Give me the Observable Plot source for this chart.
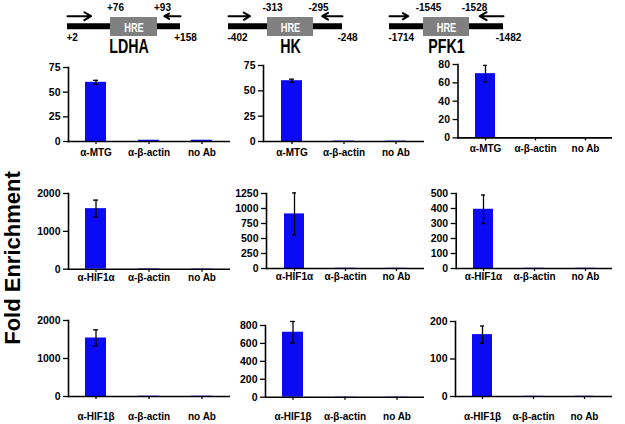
<!DOCTYPE html>
<html><head><meta charset="utf-8">
<script src="https://cdn.jsdelivr.net/npm/d3@7"></script>
<script src="https://cdn.jsdelivr.net/npm/@observablehq/plot@0.6"></script>
<style>
body{margin:0;background:#fff}
#fig{position:relative;width:625px;height:424px;overflow:hidden;font-family:"Liberation Sans",Arial,sans-serif}
#fig svg{position:absolute;overflow:visible}
#ytitle{position:absolute;left:13px;top:258px;transform:translate(-50%,-50%) rotate(-90deg);white-space:nowrap;line-height:1;font:bold 22px "Liberation Sans",Arial,sans-serif;color:#000}
</style></head>
<body><div id="fig"><div id="ytitle">Fold Enrichment</div></div>
<script>
// ---------- data ----------
const genes = ["LDHA", "HK", "PFK1"];
const ampliconStart = [2, -402, -1714];
const hreStart = [76, -313, -1545];
const hreEnd = [93, -295, -1528];
const ampliconEnd = [158, -248, -1482];

const abMTG = ["α-MTG", "α-β-actin", "no Ab"];
const abHIF1a = ["α-HIF1α", "α-β-actin", "no Ab"];
const abHIF1b = ["α-HIF1β", "α-β-actin", "no Ab"];

// fold enrichment [specific, beta-actin, no Ab] and error
const mtgLDHA = [60, 1.3, 1.3],   mtgLDHAErr = [2, 0, 0];
const mtgHK = [60, 0.4, 0.4],     mtgHKErr = [1.5, 0, 0];
const mtgPFK1 = [70, 0.4, 0.4],   mtgPFK1Err = [9, 0, 0];
const hif1aLDHA = [1600, 12, 10], hif1aLDHAErr = [225, 0, 0];
const hif1aHK = [910, 4, 4],      hif1aHKErr = [350, 0, 0];
const hif1aPFK1 = [395, 1.5, 1.5],hif1aPFK1Err = [95, 0, 0];
const hif1bLDHA = [1540, 8, 8],   hif1bLDHAErr = [215, 0, 0];
const hif1bHK = [725, 3, 3],      hif1bHKErr = [120, 0, 0];
const hif1bPFK1 = [165, 0.6, 0.6],hif1bPFK1Err = [23, 0, 0];

const yMax = [[75, 75, 80], [2000, 1250, 500], [2000, 800, 200]];
const yTicks = [
  [[0, 25, 50, 75], [0, 25, 50, 75], [0, 20, 40, 60, 80]],
  [[0, 1000, 2000], [0, 250, 500, 750, 1000, 1250], [0, 100, 200, 300, 400, 500]],
  [[0, 1000, 2000], [0, 200, 400, 600, 800], [0, 100, 200]]
];

// ---------- layout ----------
const fig = document.getElementById("fig");
const BLUE = "#0a0af5";
const FONT = "'Liberation Sans', Arial, sans-serif";

const diagramRange = [[67, 110, 157, 180], [228, 267, 313, 342], [389, 423, 469, 503]];
const diagY = {arrow: 15.7, bar: 25.7, boxTop: 17, boxBottom: 36, top: 7.5, bottom: 37.5, name: 46, hre: 27};

const sgn = v => (v > 0 ? "+" + v : String(v));

// squeeze text horizontally (the reference uses a narrow face)
function squeeze(svg, content, ratio) {
  svg.querySelectorAll("text").forEach(t => {
    if (t.textContent !== content) return;
    const w = t.getComputedTextLength();
    if (!(w > 0)) return;
    t.setAttribute("textLength", (w * ratio).toFixed(1));
    t.setAttribute("lengthAdjust", "spacingAndGlyphs");
  });
}

genes.forEach((g, i) => {
  const d = [{s: ampliconStart[i], a: hreStart[i], b: hreEnd[i], e: ampliconEnd[i], g}];
  const svg = Plot.plot({
    width: 625, height: 60, margin: 0,
    x: {type: "linear", domain: [ampliconStart[i], hreStart[i], hreEnd[i], ampliconEnd[i]], range: diagramRange[i], axis: null},
    y: {type: "identity", axis: null},
    style: {background: "transparent", fontFamily: FONT, color: "#000"},
    marks: [
      Plot.ruleY(d, {y: () => diagY.bar, x1: "s", x2: "e", stroke: "#000", strokeWidth: 6}),
      Plot.rect(d, {x1: "a", x2: "b", y1: () => diagY.boxTop, y2: () => diagY.boxBottom, fill: "#808080"}),
      Plot.text(d, {x: r => (r.a + r.b) / 2, y: () => diagY.hre, text: () => "HRE", fill: "#fff", fontWeight: "bold", fontSize: 12.5}),
      Plot.arrow(d, {x1: "s", x2: r => r.s + 0.55 * (r.a - r.s), y1: () => diagY.arrow, y2: () => diagY.arrow, stroke: "#000", strokeWidth: 2, headLength: 9}),
      Plot.arrow(d, {x1: "e", x2: r => r.e - 0.7 * (r.e - r.b), y1: () => diagY.arrow, y2: () => diagY.arrow, stroke: "#000", strokeWidth: 2, headLength: 9}),
      Plot.text(d, {x: "a", y: () => diagY.top, text: r => sgn(r.a), dx: 5, fontWeight: "bold", fontSize: 10}),
      Plot.text(d, {x: "b", y: () => diagY.top, text: r => sgn(r.b), dx: 5, fontWeight: "bold", fontSize: 10}),
      Plot.text(d, {x: "s", y: () => diagY.bottom, text: r => sgn(r.s), textAnchor: "start", dx: -1, fontWeight: "bold", fontSize: 10}),
      Plot.text(d, {x: "e", y: () => diagY.bottom, text: r => sgn(r.e), dx: 5, fontWeight: "bold", fontSize: 10}),
      Plot.text(d, {x: r => (r.a + r.b) / 2, y: () => diagY.name, text: "g", fontSize: 19.5, fontWeight: "bold", dx: i === 0 ? -5 : 0})
    ]
  });
  svg.style.left = "0px"; svg.style.top = "0px";
  fig.appendChild(svg);
  squeeze(svg, g, 0.73);
  squeeze(svg, "HRE", 0.74);
});

// panel geometry: svg left, y-axis x, x-axis right end, zero pixel, max pixel, label padding
const colLeft = [25, 205, 412];
const axisLeft = [[68, 263, 457.5], [68, 266, 455.7], [68, 265, 455]];
const axisRight = [230, 424, 612];
const zeroPx = [[141, 141, 137.7], [269, 268.3, 268.3], [396, 396.7, 396]];
const maxPx = [[67, 65, 64.3], [193.3, 193.3, 193.3], [320, 325, 321]];
const labelPad = [4, 1.5, 13];

const rows = [
  {cats: abMTG, vals: [mtgLDHA, mtgHK, mtgPFK1], errs: [mtgLDHAErr, mtgHKErr, mtgPFK1Err]},
  {cats: abHIF1a, vals: [hif1aLDHA, hif1aHK, hif1aPFK1], errs: [hif1aLDHAErr, hif1aHKErr, hif1aPFK1Err]},
  {cats: abHIF1b, vals: [hif1bLDHA, hif1bHK, hif1bPFK1], errs: [hif1bLDHAErr, hif1bHKErr, hif1bPFK1Err]}
];

rows.forEach((row, r) => {
  [0, 1, 2].forEach(c => {
    const data = row.cats.map((cat, k) => ({cat, v: row.vals[c][k], e: row.errs[c][k]}));
    const errData = data.filter(d => d.e > 0);
    const mT = 8, mB = 28, mR = 4;
    const left = colLeft[c];
    const mL = axisLeft[r][c] - left;
    const width = axisRight[c] - left + mR;
    const height = (zeroPx[r][c] - maxPx[r][c]) + mT + mB;
    const svg = Plot.plot({
      width, height, marginLeft: mL, marginRight: mR, marginTop: mT, marginBottom: mB,
      x: {type: "band", domain: row.cats, paddingInner: 0.6, paddingOuter: 0.32, label: null},
      y: {domain: [0, yMax[r][c]], label: null},
      style: {background: "transparent", fontFamily: FONT, fontSize: "10.5px", fontWeight: "bold", color: "#000"},
      marks: [
        Plot.barY(data, {x: "cat", y: "v", fill: BLUE}),
        Plot.ruleX(errData, {x: "cat", y1: d => d.v - d.e, y2: d => d.v + d.e, stroke: "#000", strokeWidth: 1.3}),
        Plot.tickY(errData, {x: "cat", y: d => d.v + d.e, stroke: "#000", strokeWidth: 1.3, insetLeft: 8, insetRight: 8}),
        Plot.tickY(errData, {x: "cat", y: d => d.v - d.e, stroke: "#000", strokeWidth: 1.3, insetLeft: 8, insetRight: 8}),
        Plot.ruleY([0], {stroke: "#000", strokeWidth: 1.6}),
        Plot.frame({anchor: "left", stroke: "#000", strokeWidth: 1.6}),
        Plot.axisY({ticks: yTicks[r][c], tickFormat: d => String(d), tickSize: 5, tickPadding: 3, strokeWidth: 1.3, fontSize: 10.5}),
        Plot.axisX({tickSize: 3, tickPadding: labelPad[r], strokeWidth: 1.3, fontSize: 10})
      ]
    });
    svg.style.left = left + "px";
    svg.style.top = (maxPx[r][c] - mT) + "px";
    fig.appendChild(svg);
  });
});
</script></body></html>
